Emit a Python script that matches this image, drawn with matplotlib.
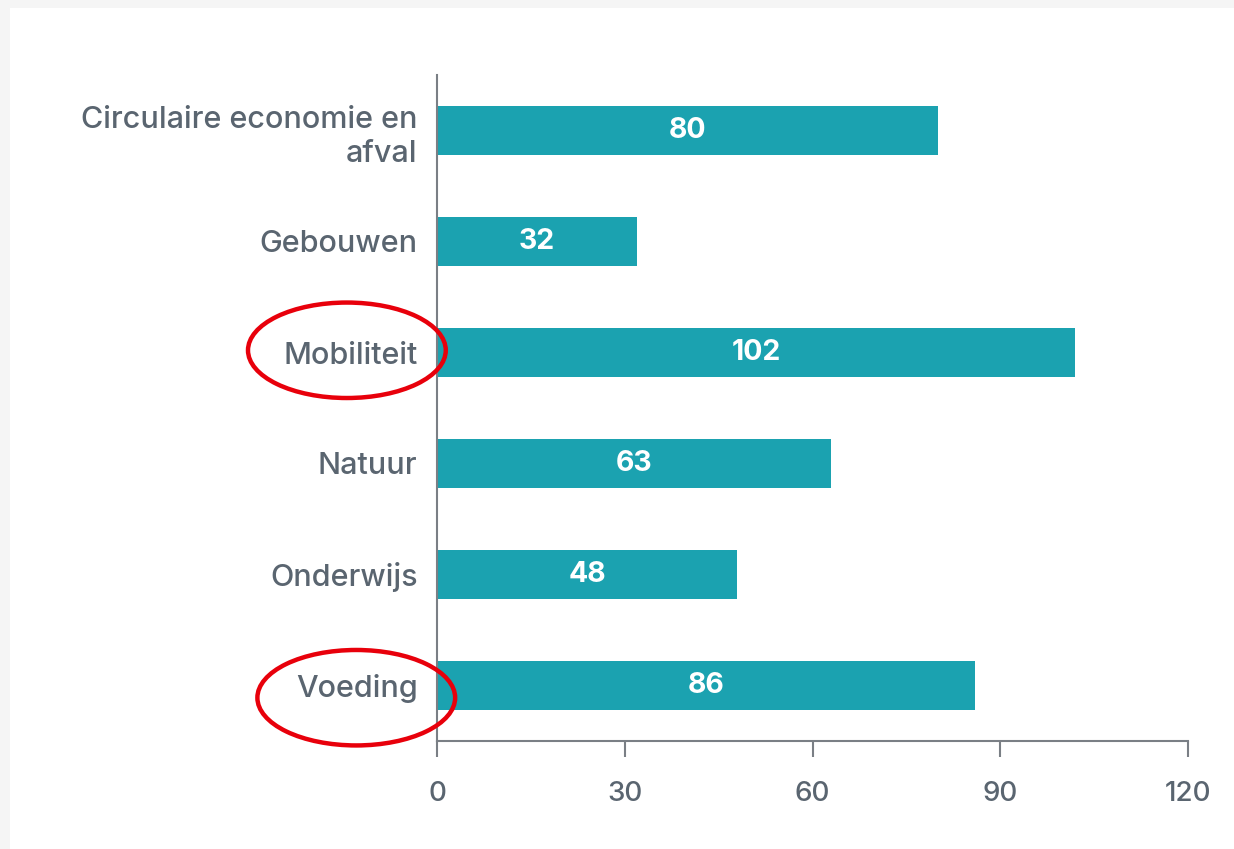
import matplotlib.pyplot as plt
from matplotlib.patches import Ellipse, Rectangle

# data
categories = ["Circulaire economie en\nafval", "Gebouwen", "Mobiliteit", "Natuur", "Onderwijs", "Voeding"]
values = [80, 32, 102, 63, 48, 86]
xticks = [0, 30, 60, 90, 120]
highlighted = ["Mobiliteit", "Voeding"]

bar_color = "#1ba2b0"
text_color = "#5a6570"
axis_color = "#7a7f85"

plt.rcParams['font.family'] = ['Inter', 'DejaVu Sans']

fig = plt.figure(figsize=(12.34, 8.49), dpi=100, facecolor="#f5f5f5")
# white card over the grey background
fig.patches.append(Rectangle((10 / 1234, 0), 1, 1 - 8 / 849, transform=fig.transFigure,
                             facecolor="white", edgecolor="none", zorder=-10))

ax = fig.add_axes([437 / 1234, 1 - 741 / 849, (1188 - 437) / 1234, (741 - 75) / 849])
ax.set_facecolor("none")

y = list(range(len(categories)))
ax.barh(y, values, height=0.45, color=bar_color)
for yi, v in zip(y, values):
    ax.text(v / 2, yi, str(v), ha="center", va="center", color="white",
            fontsize=20.5, fontweight="bold")

ax.set_xlim(0, 120)
ax.set_ylim(len(categories) - 0.5, -0.5)
ax.set_yticks(y)
ax.set_yticklabels(categories, fontsize=22, color=text_color, linespacing=1.3,
                   fontweight="medium")
ax.set_xticks(xticks)
ax.set_xticklabels([str(t) for t in xticks], fontsize=20, color=text_color,
                   fontweight="medium")
ax.tick_params(axis="y", length=0, pad=14)
ax.tick_params(axis="x", length=11.5, width=1.5, color=axis_color, pad=17)

for s in ["top", "right"]:
    ax.spines[s].set_visible(False)
for s in ["left", "bottom"]:
    ax.spines[s].set_color(axis_color)
    ax.spines[s].set_linewidth(1.5)

# red circles around highlighted categories
for name, dx, dy in [("Mobiliteit", -14.4, -0.02), ("Voeding", -12.9, 0.11)]:
    i = categories.index(name)
    ax.add_patch(Ellipse((dx, i + dy), 31.6, 0.86, fill=False, edgecolor="#e8000b",
                         linewidth=3.2, clip_on=False, zorder=5))

fig.savefig("out.png", dpi=100, facecolor=fig.get_facecolor())
